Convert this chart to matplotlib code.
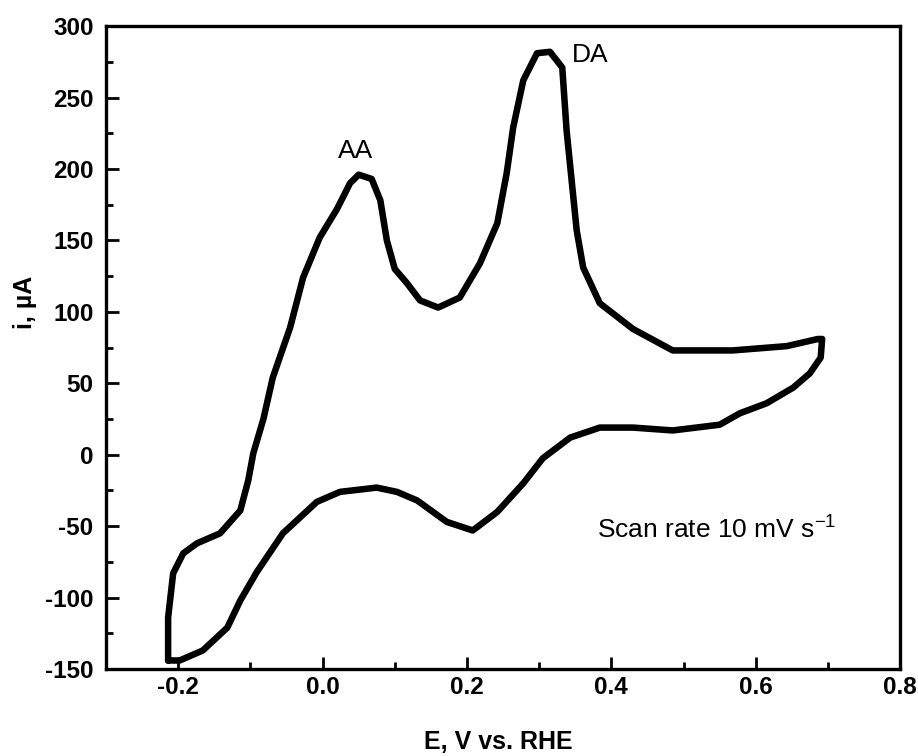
import matplotlib
matplotlib.use("Agg")
import matplotlib.pyplot as plt
from matplotlib.ticker import MultipleLocator, FormatStrFormatter

plt.rcParams["font.family"] = ["Liberation Sans", "DejaVu Sans"]
plt.rcParams["axes.unicode_minus"] = False
plt.rcParams["mathtext.default"] = "regular"

# forward (anodic) sweep, E in V vs RHE and i in uA
e_forward = [-0.214, -0.214, -0.207, -0.193, -0.174, -0.142, -0.114, -0.103, -0.096,
             -0.082, -0.069, -0.045, -0.027, -0.004, 0.020, 0.038, 0.050, 0.068,
             0.080, 0.089, 0.100, 0.117, 0.135, 0.160, 0.190, 0.218, 0.242, 0.255,
             0.264, 0.278, 0.297, 0.315, 0.332, 0.338, 0.345, 0.352, 0.361, 0.384,
             0.430, 0.485, 0.568, 0.643, 0.686, 0.692]
i_forward = [-144, -114, -83, -69, -62, -55, -39, -18, 1,
             25, 54, 89, 124, 152, 172, 190, 196, 193,
             178, 150, 130, 120, 108, 103, 110, 134, 162, 197,
             229, 262, 281, 282, 271, 227, 192, 157, 131, 106,
             88, 73, 73, 76, 81, 81]

# reverse (cathodic) sweep
e_reverse = [0.692, 0.690, 0.675, 0.652, 0.615, 0.578, 0.550, 0.485, 0.430, 0.384,
             0.343, 0.305, 0.278, 0.242, 0.208, 0.172, 0.131, 0.103, 0.075, 0.024,
             -0.008, -0.055, -0.091, -0.114, -0.132, -0.166, -0.198, -0.214]
i_reverse = [81, 68, 57, 47, 36, 29, 21, 17, 19, 19,
             12, -2.5, -20, -40, -53, -47, -32, -26, -23, -26,
             -33, -55, -82, -102, -121, -137, -144, -144]

fig = plt.figure(figsize=(9.18, 7.56), dpi=100)
ax = fig.add_axes([0.1155, 0.115, 0.865, 0.8505])

ax.plot(e_forward + e_reverse, i_forward + i_reverse, color="black", lw=4.7,
        solid_joinstyle="round", solid_capstyle="round")

ax.set_xlim(-0.3, 0.8)
ax.set_ylim(-150, 300)
ax.xaxis.set_major_locator(MultipleLocator(0.2))
ax.xaxis.set_minor_locator(MultipleLocator(0.1))
ax.yaxis.set_major_locator(MultipleLocator(50))
ax.yaxis.set_minor_locator(MultipleLocator(25))
ax.xaxis.set_major_formatter(FormatStrFormatter("%.1f"))

ax.tick_params(which="both", direction="in", top=False, right=False, width=2)
ax.tick_params(which="major", length=9, labelsize=17.5)
ax.tick_params(which="minor", length=5)
ax.tick_params(axis="x", pad=5)
ax.tick_params(axis="y", pad=9)
for lab in ax.get_xticklabels() + ax.get_yticklabels():
    lab.set_fontweight("bold")
for spine in ax.spines.values():
    spine.set_linewidth(2.4)

ax.set_xlabel("E, V vs. RHE", fontsize=18, fontweight="bold")
ax.set_ylabel("i, \u00b5A", fontsize=18, fontweight="bold")
ax.xaxis.label.set_va("center")
ax.yaxis.label.set_va("center")
ax.xaxis.set_label_coords(0.494, -0.114)
ax.yaxis.set_label_coords(-0.102, 0.57)

ax.text(0.045, 208, "AA", fontsize=19, ha="center", va="baseline")
ax.text(0.345, 275, "DA", fontsize=19, ha="left", va="baseline")
ax.text(0.380, -58.5, "Scan rate 10 mV s$^{-1}$", fontsize=19, ha="left", va="baseline")

fig.savefig("out.png", dpi=100)
